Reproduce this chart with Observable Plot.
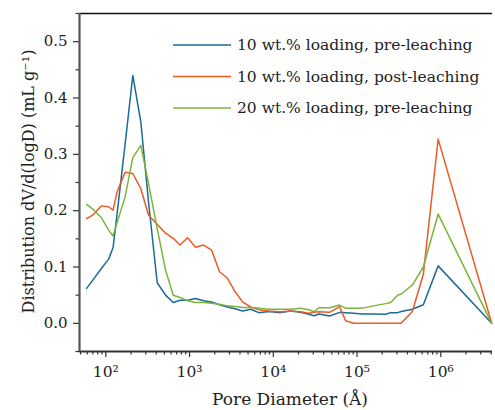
<!DOCTYPE html>
<html>
<head>
<meta charset="utf-8">
<script src="https://cdn.jsdelivr.net/npm/d3@7"></script>
<script src="https://cdn.jsdelivr.net/npm/@observablehq/plot@0.6"></script>
<style>
  html, body { margin: 0; padding: 0; background: #fff; }
  #chart { width: 495px; height: 410px; }
</style>
</head>
<body>
<div id="chart"></div>
<script>
// Pore diameters (Å), shared by the three series
const diameters = [59, 71, 88, 108, 122, 136, 170, 210, 262, 324, 411, 517, 639, 770, 946,
  1180, 1470, 1830, 2280, 2840, 3500, 4300, 5360, 6730, 8860, 12200, 16100, 21200, 26600,
  30600, 35100, 47100, 62000, 73100, 91000, 116700, 157800, 219800, 251800, 305500, 336500,
  458000, 619500, 931000, 4056000];

const preLeach10 = [0.062, 0.078, 0.097, 0.114, 0.134, 0.193, 0.318, 0.440, 0.357, 0.215, 0.072,
  0.050, 0.037, 0.041, 0.041, 0.044, 0.040, 0.038, 0.033, 0.029, 0.026, 0.022, 0.025, 0.019,
  0.021, 0.019, 0.022, 0.0195, 0.016, 0.0135, 0.0165, 0.013, 0.0195, 0.019, 0.018, 0.0165,
  0.0165, 0.016, 0.019, 0.019, 0.021, 0.025, 0.033, 0.102, 0.0];

const postLeach10 = [0.186, 0.193, 0.2085, 0.207, 0.201, 0.233, 0.268, 0.266, 0.239, 0.192, 0.176,
  0.160, 0.151, 0.139, 0.152, 0.135, 0.139, 0.130, 0.0915, 0.080, 0.056, 0.038, 0.029, 0.024,
  0.022, 0.0206, 0.022, 0.0206, 0.018, 0.0195, 0.0206, 0.0195, 0.0295, 0.0046, 0.0, 0.0,
  0.0, 0.0, 0.0, 0.0, 0.0, 0.021, 0.087, 0.327, 0.0];

const preLeach20 = [0.211, 0.202, 0.188, 0.1655, 0.155, 0.178, 0.2245, 0.294, 0.316, 0.248, 0.168,
  0.0945, 0.050, 0.046, 0.040, 0.037, 0.037, 0.0355, 0.034, 0.031, 0.030, 0.028, 0.028, 0.027,
  0.025, 0.025, 0.025, 0.0266, 0.024, 0.0206, 0.0277, 0.0277, 0.0324, 0.0266, 0.0266, 0.027,
  0.031, 0.035, 0.037, 0.050, 0.052, 0.068, 0.100, 0.194, 0.0];

const seriesNames = ["10 wt.% loading, pre-leaching", "10 wt.% loading, post-leaching", "20 wt.% loading, pre-leaching"];
const seriesColors = ["#1b6a98", "#ee5a24", "#7ab43c"];

const xMajorTicks = [1e2, 1e3, 1e4, 1e5, 1e6];
const yMajorTicks = [0.0, 0.1, 0.2, 0.3, 0.4, 0.5];
const yMinorTicks = [-0.05, 0.05, 0.15, 0.25, 0.35, 0.45, 0.55];
const xDomain = [48.5, 4.15e6];
const yDomain = [-0.05, 0.55];

const xLabel = "Pore Diameter (Å)";
const yLabel = "Distribution dV/d(logD) (mL g⁻¹)";

const xMinorTicks = [];
for (let k = 1; k <= 6; k++) for (let m = 2; m <= 9; m++) {
  const v = m * Math.pow(10, k);
  if (v >= xDomain[0] && v <= xDomain[1]) xMinorTicks.push(v);
}

const sup = {"0":"⁰","1":"¹","2":"²","3":"³","4":"⁴","5":"⁵","6":"⁶","7":"⁷","8":"⁸","9":"⁹"};
const fmtPow = d => "10" + String(Math.round(Math.log10(d))).split("").map(c => sup[c]).join("");

const allSeries = [preLeach10, postLeach10, preLeach20];
const rows = [];
allSeries.forEach((vals, i) => diameters.forEach((d, j) => rows.push({d, v: vals[j], s: seriesNames[i]})));

const W = 495, H = 410;
const chart = Plot.plot({
  width: W, height: H,
  marginLeft: 79, marginTop: 13, marginBottom: 59, marginRight: 3,
  style: {fontFamily: "DejaVu Serif", fontSize: "15px", color: "#222", background: "#fff", overflow: "visible"},
  x: {type: "log", domain: xDomain},
  y: {domain: yDomain},
  color: {domain: seriesNames, range: seriesColors},
  marks: [
    Plot.axisX({ticks: xMajorTicks, tickSize: 6, tickPadding: 8, tickFormat: fmtPow, label: null, stroke: "#333", strokeWidth: 1.2, fontSize: 15.5}),
    Plot.axisX({ticks: xMinorTicks, tickSize: 3.5, tickFormat: () => "", label: null, stroke: "#333", strokeWidth: 1.2}),
    Plot.axisY({ticks: yMajorTicks, tickSize: 6, tickPadding: 6, tickFormat: d3.format(".1f"), label: null, stroke: "#333", strokeWidth: 1.2}),
    Plot.axisY({ticks: yMinorTicks, tickSize: 3.5, tickFormat: () => "", label: null, stroke: "#333", strokeWidth: 1.2}),
    Plot.ruleY([yDomain[1]], {stroke: "#111", strokeWidth: 1.5}),
    Plot.ruleY([yDomain[0]], {stroke: "#333", strokeWidth: 1.8}),
    Plot.ruleX([xDomain[0]], {stroke: "#555", strokeWidth: 2.2}),
    Plot.line(rows, {x: "d", y: "v", z: "s", stroke: "s", strokeWidth: 1.5, curve: "linear"})
  ]
});
document.getElementById("chart").appendChild(chart);

const svg = d3.select(chart);
svg.append("text")
  .attr("x", 290).attr("y", 405)
  .attr("text-anchor", "middle")
  .attr("font-family", "DejaVu Serif").attr("font-size", 17).attr("fill", "#222")
  .text(xLabel);
svg.append("text")
  .attr("transform", "translate(33.5,181.5) rotate(-90)")
  .attr("text-anchor", "middle")
  .attr("font-family", "DejaVu Serif").attr("font-size", 16).attr("fill", "#222")
  .text(yLabel);

// Legend
const lg = svg.append("g");
seriesNames.forEach((name, i) => {
  const y = 45 + i * 31.5;
  lg.append("line").attr("x1", 173).attr("x2", 231).attr("y1", y).attr("y2", y)
    .attr("stroke", seriesColors[i]).attr("stroke-width", 1.6);
  lg.append("text").attr("x", 237).attr("y", y).attr("dy", "0.35em")
    .attr("text-anchor", "start")
    .attr("font-family", "DejaVu Serif").attr("font-size", 15.5).attr("fill", "#222")
    .text(name);
});
</script>
</body>
</html>
